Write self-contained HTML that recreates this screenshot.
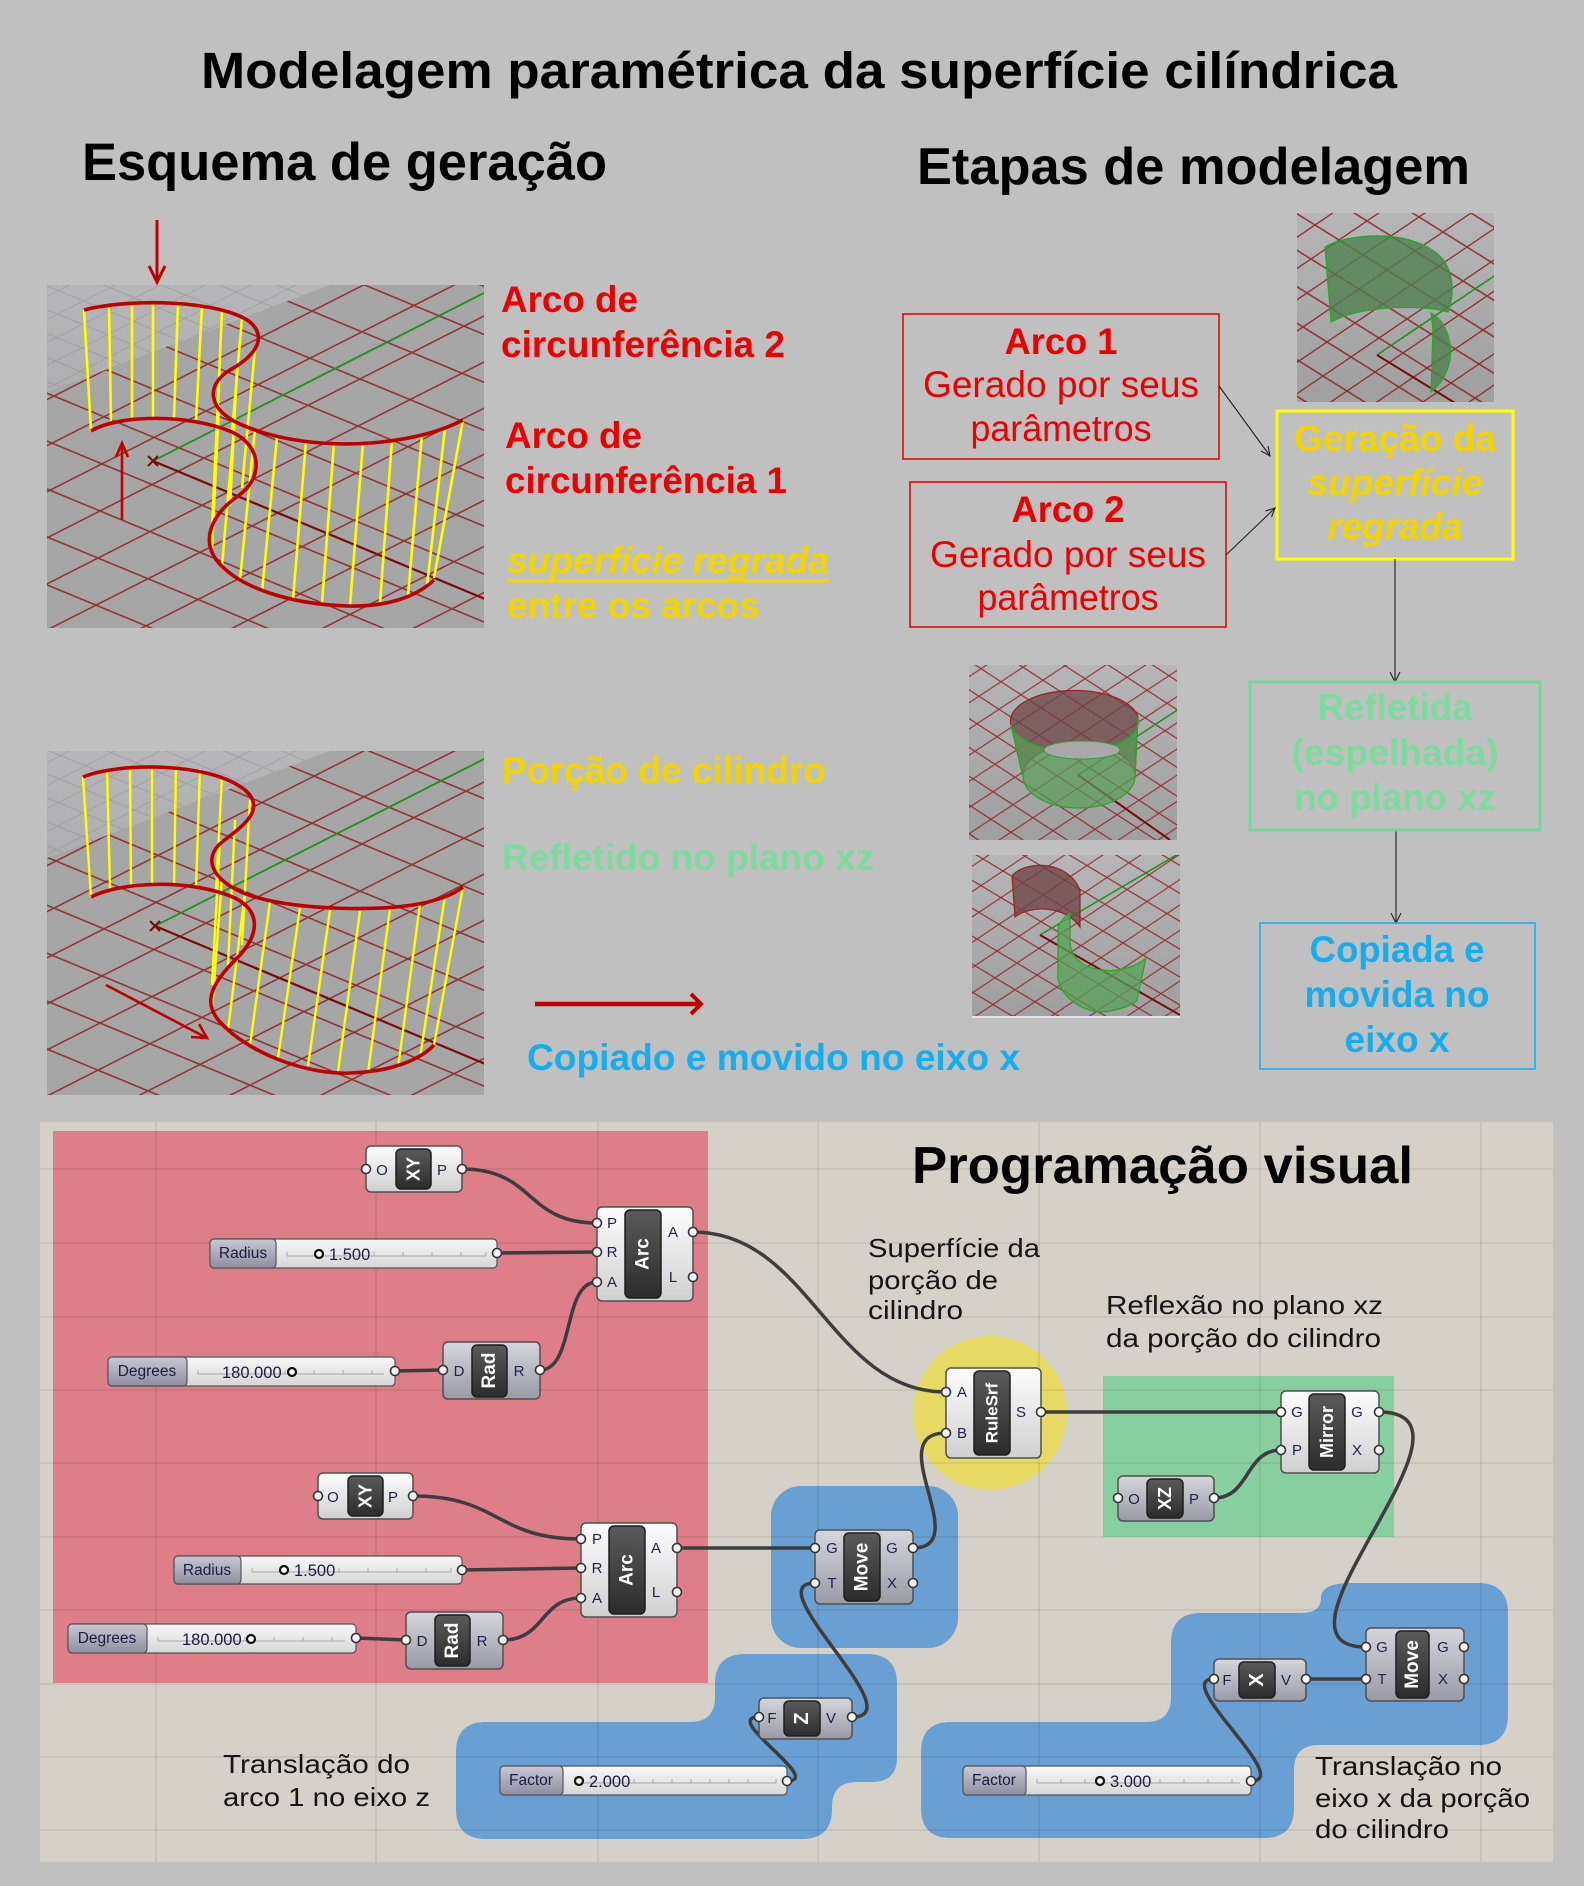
<!DOCTYPE html>
<html><head><meta charset="utf-8">
<style>html,body{margin:0;padding:0;background:#c0c0c0;}svg{display:block}</style></head>
<body>
<svg xmlns="http://www.w3.org/2000/svg" width="1584" height="1886" viewBox="0 0 1584 1886" font-family="'Liberation Sans', Arial, sans-serif">
<defs>
<linearGradient id="vpbg" x1="0" y1="0" x2="0" y2="1"><stop offset="0" stop-color="#b6b6b8"/><stop offset="1" stop-color="#9f9f9f"/></linearGradient>
<linearGradient id="nl" x1="0" y1="0" x2="0" y2="1"><stop offset="0" stop-color="#fdfdfd"/><stop offset="1" stop-color="#d0d0d0"/></linearGradient>
<linearGradient id="ng" x1="0" y1="0" x2="0" y2="1"><stop offset="0" stop-color="#d6d6dc"/><stop offset="1" stop-color="#9a9aa6"/></linearGradient>
<linearGradient id="ni" x1="0" y1="0" x2="0" y2="1"><stop offset="0" stop-color="#5a5a5a"/><stop offset="1" stop-color="#2c2c2c"/></linearGradient>
<linearGradient id="sl" x1="0" y1="0" x2="0" y2="1"><stop offset="0" stop-color="#c8c8d6"/><stop offset="1" stop-color="#8e8ea0"/></linearGradient>
<linearGradient id="sv" x1="0" y1="0" x2="0" y2="1"><stop offset="0" stop-color="#f8f8f8"/><stop offset="1" stop-color="#d6d6d6"/></linearGradient>
<pattern id="g1" patternUnits="userSpaceOnUse" width="100" height="100" patternTransform="matrix(0.52,-0.264,0.50,0.207,153,461)"><path d="M0,50H100M50,0V100" stroke="#8a1c1c" stroke-width="3.5" fill="none"/></pattern>
<pattern id="g1g" patternUnits="userSpaceOnUse" width="100" height="100" patternTransform="matrix(0.26,-0.132,0.25,0.103,153,461)"><path d="M0,50H100M50,0V100" stroke="#8c8c98" stroke-width="4" fill="none"/></pattern>
<pattern id="g2" patternUnits="userSpaceOnUse" width="100" height="100" patternTransform="matrix(0.52,-0.264,0.50,0.207,155,926)"><path d="M0,50H100M50,0V100" stroke="#8a1c1c" stroke-width="3.5" fill="none"/></pattern>
<pattern id="g2g" patternUnits="userSpaceOnUse" width="100" height="100" patternTransform="matrix(0.26,-0.132,0.25,0.103,155,926)"><path d="M0,50H100M50,0V100" stroke="#8c8c98" stroke-width="4" fill="none"/></pattern>
<pattern id="gA" patternUnits="userSpaceOnUse" width="100" height="100" patternTransform="matrix(0.22,-0.145,0.20,0.13,1078,775)"><path d="M0,50H100M50,0V100" stroke="#8a1c1c" stroke-width="5" fill="none"/></pattern>
<pattern id="gB" patternUnits="userSpaceOnUse" width="100" height="100" patternTransform="matrix(0.22,-0.147,0.20,0.12,1040,935)"><path d="M0,50H100M50,0V100" stroke="#8a1c1c" stroke-width="5" fill="none"/></pattern>
<pattern id="gC" patternUnits="userSpaceOnUse" width="100" height="100" patternTransform="matrix(0.28,-0.19,0.24,0.15,1377,355)"><path d="M0,50H100M50,0V100" stroke="#8a1c1c" stroke-width="5" fill="none"/></pattern>
<clipPath id="c1"><rect x="47" y="285" width="437" height="343"/></clipPath>
<clipPath id="c1r"><polygon points="47,392 330,285 484,285 484,628 47,628"/></clipPath>
<clipPath id="c2"><rect x="47" y="751" width="437" height="344"/></clipPath>
<clipPath id="c2r"><polygon points="47,858 330,751 484,751 484,1095 47,1095"/></clipPath>
<clipPath id="cA"><rect x="969" y="665" width="208" height="175"/></clipPath>
<clipPath id="cB"><rect x="972" y="855" width="208" height="163"/></clipPath>
<clipPath id="cC"><rect x="1297" y="213" width="197" height="189"/></clipPath>
</defs>

<rect width="1584" height="1886" fill="#c0c0c0"/>

<!-- Headings -->
<text x="201" y="88" font-size="51" font-weight="bold" fill="#000" textLength="1196" lengthAdjust="spacingAndGlyphs">Modelagem paramétrica da superfície cilíndrica</text>
<text x="82" y="180" font-size="53" font-weight="bold" fill="#000" textLength="525" lengthAdjust="spacingAndGlyphs">Esquema de geração</text>
<text x="917" y="184" font-size="52" font-weight="bold" fill="#000" textLength="553" lengthAdjust="spacingAndGlyphs">Etapas de modelagem</text>

<!-- Viewport 1 -->
<g clip-path="url(#c1)">
<rect x="47" y="285" width="437" height="343" fill="url(#vpbg)"/>
<rect x="47" y="285" width="437" height="343" fill="url(#g1g)" opacity="0.6"/>
<rect x="47" y="285" width="437" height="343" fill="#a6a6a6" clip-path="url(#c1r)"/>
<rect x="47" y="285" width="437" height="343" fill="url(#g1)" clip-path="url(#c1r)" opacity="0.85"/>
<line x1="153" y1="461" x2="490" y2="290" stroke="#1f8f1f" stroke-width="1.8"/>
<line x1="153" y1="461" x2="490" y2="601" stroke="#7a0a0a" stroke-width="2.2"/>
<path d="M148,456l10,10M158,456l-10,10" stroke="#7a0a0a" stroke-width="2"/>
<g stroke="#ffff00" stroke-width="2.6">
<line x1="84" y1="310" x2="91" y2="431"/><line x1="109" y1="306" x2="111" y2="421"/><line x1="132" y1="303" x2="132" y2="417"/><line x1="153" y1="302" x2="153" y2="417"/><line x1="178" y1="303" x2="174" y2="418"/><line x1="202" y1="305" x2="196" y2="421"/><line x1="222" y1="310" x2="217" y2="425"/><line x1="242" y1="318" x2="232" y2="433"/>
<line x1="255" y1="349" x2="242" y2="488"/><line x1="237" y1="369" x2="230" y2="506"/><line x1="219" y1="382" x2="212" y2="527"/>
<line x1="219" y1="405" x2="212" y2="548"/><line x1="235" y1="417" x2="222" y2="566"/><line x1="255" y1="429" x2="240" y2="580"/><line x1="277" y1="437" x2="262" y2="592"/><line x1="306" y1="441" x2="293" y2="600"/><line x1="334" y1="443" x2="322" y2="604"/><line x1="363" y1="443" x2="350" y2="606"/><line x1="392" y1="440" x2="380" y2="603"/><line x1="422" y1="434" x2="408" y2="596"/><line x1="445" y1="428" x2="427" y2="586"/><line x1="463" y1="420" x2="434" y2="578"/>
</g>
<g stroke="#c00000" stroke-width="3.6" fill="none">
<path d="M84,310 C130,298 220,300 250,322 C268,338 255,356 230,370 C205,385 208,410 240,424 C280,442 330,446 370,443 C410,440 440,432 463,420"/>
<path d="M91,431 C120,414 190,414 232,432 C262,446 264,478 238,496 C212,514 200,540 218,562 C240,588 290,604 347,606 C385,607 415,598 434,580"/>
</g>
<g stroke="#c00000" stroke-width="2.6" fill="none"><line x1="122" y1="520" x2="122" y2="445"/><polyline points="116,457 122,443 128,457"/></g>
</g>
<g stroke="#c00000" stroke-width="3" fill="none"><line x1="157" y1="220" x2="157" y2="280"/><polyline points="149,266 157,282 165,266"/></g>

<!-- Labels right of vp1 -->
<g font-weight="bold" fill="#ee0000" font-size="37">
<text x="501" y="312" textLength="137" lengthAdjust="spacingAndGlyphs">Arco de</text>
<text x="501" y="357" textLength="284" lengthAdjust="spacingAndGlyphs">circunferência 2</text>
<text x="505" y="448" textLength="137" lengthAdjust="spacingAndGlyphs">Arco de</text>
<text x="505" y="493" textLength="282" lengthAdjust="spacingAndGlyphs">circunferência 1</text>
</g>
<text x="507" y="573" font-size="37" font-weight="bold" font-style="italic" fill="#f2d500" textLength="322" lengthAdjust="spacingAndGlyphs">superfície regrada</text>
<rect x="507" y="579" width="322" height="3.5" fill="#f2d500"/>
<text x="507" y="618" font-size="37" font-weight="bold" fill="#f2d500" textLength="253" lengthAdjust="spacingAndGlyphs">entre os arcos</text>

<!-- Arco boxes -->
<rect x="903" y="314" width="316" height="145" fill="none" stroke="#e00000" stroke-width="1.5"/>
<rect x="910" y="482" width="316" height="145" fill="none" stroke="#e00000" stroke-width="1.5"/>
<g fill="#ee0000" text-anchor="middle">
<text x="1061" y="354" font-size="37" font-weight="bold" textLength="113" lengthAdjust="spacingAndGlyphs">Arco 1</text>
<text x="1061" y="397" font-size="37" textLength="276" lengthAdjust="spacingAndGlyphs">Gerado por seus</text>
<text x="1061" y="441" font-size="37" textLength="181" lengthAdjust="spacingAndGlyphs">parâmetros</text>
<text x="1068" y="522" font-size="37" font-weight="bold" textLength="113" lengthAdjust="spacingAndGlyphs">Arco 2</text>
<text x="1068" y="567" font-size="37" textLength="276" lengthAdjust="spacingAndGlyphs">Gerado por seus</text>
<text x="1068" y="610" font-size="37" textLength="181" lengthAdjust="spacingAndGlyphs">parâmetros</text>
</g>

<!-- Thumbnail C -->
<g clip-path="url(#cC)">
<rect x="1297" y="213" width="197" height="189" fill="url(#vpbg)"/>
<rect x="1297" y="213" width="197" height="189" fill="url(#gC)" opacity="0.85"/>
<line x1="1377" y1="355" x2="1500" y2="272" stroke="#1f8f1f" stroke-width="1.6"/>
<line x1="1377" y1="355" x2="1460" y2="406" stroke="#7a0a0a" stroke-width="2"/>
<path d="M1325,247 C1350,232 1420,228 1445,262 C1455,280 1453,298 1448,312 C1420,304 1360,306 1331,322 Z" fill="#4f7f4f" fill-opacity="0.8" stroke="#22aa22" stroke-width="1.2"/>
<path d="M1431,313 C1448,322 1452,345 1450,360 C1447,375 1440,385 1431,392 L1433,330 Z" fill="#4f7f4f" fill-opacity="0.8" stroke="#22aa22" stroke-width="1.2"/>
</g>

<!-- Yellow box -->
<rect x="1277" y="411" width="236" height="148" fill="none" stroke="#ffff00" stroke-width="3"/>
<g fill="#f2d500" font-weight="bold" font-size="37" text-anchor="middle">
<text x="1395" y="451" textLength="202" lengthAdjust="spacingAndGlyphs">Geração da</text>
<text x="1395" y="495" font-style="italic" textLength="175" lengthAdjust="spacingAndGlyphs">superfície</text>
<text x="1395" y="539" font-style="italic" textLength="135" lengthAdjust="spacingAndGlyphs">regrada</text>
</g>

<!-- Connectors -->
<g stroke="#222" stroke-width="1.1" fill="none">
<line x1="1219" y1="386" x2="1270" y2="456"/><polyline points="1268,446 1270,456 1261,451"/>
<line x1="1226" y1="555" x2="1275" y2="508"/><polyline points="1265.5,511 1275,508 1271.5,517"/>
<line x1="1395" y1="559" x2="1395" y2="682"/><polyline points="1390,672 1395,682 1400,672"/>
<line x1="1396" y1="830" x2="1396" y2="923"/><polyline points="1391,913 1396,923 1401,913"/>
</g>

<!-- Refletida box -->
<rect x="1250" y="682" width="290" height="148" fill="none" stroke="#6fd89a" stroke-width="3"/>
<g fill="#7ddba0" font-weight="bold" font-size="37" text-anchor="middle">
<text x="1395" y="720" textLength="155" lengthAdjust="spacingAndGlyphs">Refletida</text>
<text x="1395" y="765" textLength="207" lengthAdjust="spacingAndGlyphs">(espelhada)</text>
<text x="1395" y="810" textLength="202" lengthAdjust="spacingAndGlyphs">no plano xz</text>
</g>
<!-- Copiada box -->
<rect x="1260" y="923" width="275" height="146" fill="none" stroke="#1aaee8" stroke-width="1.6"/>
<g fill="#14aef0" font-weight="bold" font-size="37" text-anchor="middle">
<text x="1397" y="962" textLength="175" lengthAdjust="spacingAndGlyphs">Copiada e</text>
<text x="1397" y="1007" textLength="185" lengthAdjust="spacingAndGlyphs">movida no</text>
<text x="1397" y="1052" textLength="105" lengthAdjust="spacingAndGlyphs">eixo x</text>
</g>

<!-- Thumbnail A -->
<g clip-path="url(#cA)">
<rect x="969" y="665" width="208" height="175" fill="url(#vpbg)"/>
<rect x="969" y="665" width="208" height="175" fill="url(#gA)" opacity="0.85"/>
<path d="M1011,725 A63,30 0 0 1 1138,717 L1135,775 A56,32 0 0 0 1023,777 Z" fill="#6e4646" fill-opacity="0.75" stroke="#9a2020" stroke-width="1.2"/>
<line x1="1078" y1="775" x2="1182" y2="707" stroke="#1f8f1f" stroke-width="1.5"/>
<line x1="1078" y1="775" x2="1170" y2="840" stroke="#7a0a0a" stroke-width="2"/>
<path d="M1011,725 A63,30 0 0 0 1138,717 L1135,775 A56,32 0 0 1 1023,777 Z" fill="#58a058" fill-opacity="0.7" stroke="#22aa22" stroke-width="1.2"/>
<ellipse cx="1082" cy="750" rx="38" ry="9" fill="#a9a9a9" stroke="#3a9a3a" stroke-width="1"/>
</g>
<!-- Thumbnail B -->
<g clip-path="url(#cB)">
<rect x="972" y="855" width="208" height="163" fill="url(#vpbg)"/>
<rect x="972" y="855" width="208" height="163" fill="url(#gB)" opacity="0.85"/>
<line x1="1040" y1="935" x2="1185" y2="850" stroke="#1f8f1f" stroke-width="1.5"/>
<line x1="1040" y1="935" x2="1180" y2="1015" stroke="#7a0a0a" stroke-width="2"/>
<path d="M1012,876 C1025,860 1068,860 1080,890 L1080,927 C1065,905 1030,905 1015,917 Z" fill="#6e4646" fill-opacity="0.8" stroke="#9a2020" stroke-width="1.2"/>
<path d="M1070,913 C1062,918 1058,925 1058,930 L1058,978 C1062,1000 1085,1012 1103,1012 C1120,1010 1135,1004 1137,1000 L1146,958 C1135,968 1115,972 1103,970 C1080,968 1070,955 1070,940 Z" fill="#58a058" fill-opacity="0.75" stroke="#22aa22" stroke-width="1.2"/>
<rect x="972" y="1016" width="208" height="2" fill="#dfe4ee"/>
</g>

<!-- Viewport 2 -->
<g clip-path="url(#c2)">
<rect x="47" y="751" width="437" height="344" fill="url(#vpbg)"/>
<rect x="47" y="751" width="437" height="344" fill="url(#g2g)" opacity="0.6"/>
<rect x="47" y="751" width="437" height="344" fill="#a6a6a6" clip-path="url(#c2r)"/>
<rect x="47" y="751" width="437" height="344" fill="url(#g2)" clip-path="url(#c2r)" opacity="0.85"/>
<line x1="155" y1="926" x2="490" y2="756" stroke="#1f8f1f" stroke-width="1.8"/>
<line x1="155" y1="926" x2="490" y2="1066" stroke="#7a0a0a" stroke-width="2.2"/>
<path d="M150,921l10,10M160,921l-10,10" stroke="#7a0a0a" stroke-width="2"/>
<g stroke="#ffff00" stroke-width="2.4">
<line x1="83" y1="777" x2="91" y2="897"/><line x1="107" y1="769" x2="110" y2="889"/><line x1="130" y1="766" x2="131" y2="885"/><line x1="152" y1="765" x2="152" y2="883"/><line x1="176" y1="766" x2="174" y2="884"/><line x1="200" y1="769" x2="196" y2="887"/><line x1="222" y1="776" x2="216" y2="892"/>
<line x1="250" y1="800" x2="242" y2="945"/><line x1="235" y1="820" x2="228" y2="965"/><line x1="220" y1="840" x2="212" y2="985"/>
<line x1="222" y1="878" x2="212" y2="1010"/><line x1="245" y1="893" x2="228" y2="1030"/><line x1="270" y1="902" x2="250" y2="1045"/><line x1="300" y1="908" x2="278" y2="1058"/><line x1="330" y1="910" x2="308" y2="1066"/><line x1="360" y1="911" x2="338" y2="1072"/><line x1="390" y1="909" x2="368" y2="1073"/><line x1="420" y1="904" x2="398" y2="1068"/><line x1="445" y1="896" x2="420" y2="1058"/><line x1="463" y1="887" x2="434" y2="1045"/>
</g>
<g stroke="#c00000" stroke-width="3.6" fill="none">
<path d="M83,777 C120,762 210,762 245,790 C268,810 240,828 222,842 C200,860 215,885 255,897 C300,910 380,912 424,903 C445,898 455,893 463,887"/>
<path d="M91,897 C120,882 190,878 235,898 C262,912 258,935 240,955 C215,980 200,1000 220,1022 C250,1055 310,1075 350,1073 C390,1072 420,1060 434,1045"/>
</g>
<g stroke="#c00000" stroke-width="2.6" fill="none"><line x1="106" y1="985" x2="205" y2="1037"/><polyline points="191,1037 207,1038 199,1024"/></g>
</g>

<text x="502" y="783" font-size="37" font-weight="bold" fill="#f2d500" textLength="324" lengthAdjust="spacingAndGlyphs">Porção de cilindro</text>
<text x="502" y="870" font-size="37" font-weight="bold" fill="#7ddba0" textLength="372" lengthAdjust="spacingAndGlyphs">Refletido no plano xz</text>
<g stroke="#c00000" fill="none"><line x1="535" y1="1004" x2="700" y2="1004" stroke-width="4.5"/><polyline points="691,994 701,1004 691,1014" stroke-width="4"/></g>
<text x="527" y="1070" font-size="37" font-weight="bold" fill="#14aef0" textLength="493" lengthAdjust="spacingAndGlyphs">Copiado e movido no eixo x</text>

<!-- ============ Grasshopper canvas ============ -->
<rect x="40" y="1122" width="1513" height="740" fill="#d5d1c9"/>
<rect x="53" y="1131" width="655" height="552" fill="#dd7e88"/>
<circle cx="990" cy="1413" r="77" fill="#e6da64"/>
<rect x="1103" y="1376" width="291" height="161" fill="#88cf9f"/>
<rect x="771" y="1486" width="187" height="162" rx="30" fill="#6a9fd3"/>
<path d="M745,1654 H867 Q897,1654 897,1684 V1757 Q897,1782 872,1782 H857 Q832,1782 832,1807 V1809 Q832,1839 802,1839 H486 Q456,1839 456,1809 V1752 Q456,1722 486,1722 H690 Q715,1722 715,1697 V1684 Q715,1654 745,1654 Z" fill="#6a9fd3"/>
<path d="M1351,1583 H1478 Q1508,1583 1508,1613 V1715 Q1508,1745 1478,1745 H1319 Q1294,1745 1294,1770 V1808 Q1294,1838 1264,1838 H951 Q921,1838 921,1808 V1752 Q921,1722 951,1722 H1146 Q1171,1722 1171,1697 V1643 Q1171,1613 1201,1613 H1301 Q1321,1613 1321,1598 Q1321,1583 1351,1583 Z" fill="#6a9fd3"/>
<g stroke="#000" stroke-opacity="0.1" stroke-width="1.3">
<line x1="156" y1="1122" x2="156" y2="1862"/><line x1="376" y1="1122" x2="376" y2="1862"/><line x1="598" y1="1122" x2="598" y2="1862"/><line x1="818" y1="1122" x2="818" y2="1862"/><line x1="1039" y1="1122" x2="1039" y2="1862"/><line x1="1260" y1="1122" x2="1260" y2="1862"/><line x1="1481" y1="1122" x2="1481" y2="1862"/>
<line x1="40" y1="1169" x2="1553" y2="1169"/><line x1="40" y1="1243" x2="1553" y2="1243"/><line x1="40" y1="1317" x2="1553" y2="1317"/><line x1="40" y1="1390" x2="1553" y2="1390"/><line x1="40" y1="1463" x2="1553" y2="1463"/><line x1="40" y1="1537" x2="1553" y2="1537"/><line x1="40" y1="1610" x2="1553" y2="1610"/><line x1="40" y1="1684" x2="1553" y2="1684"/><line x1="40" y1="1757" x2="1553" y2="1757"/><line x1="40" y1="1830" x2="1553" y2="1830"/>
</g>

<!-- Canvas texts -->
<text x="912" y="1183" font-size="52" font-weight="bold" fill="#000" textLength="501" lengthAdjust="spacingAndGlyphs">Programação visual</text>
<g font-size="26" fill="#151515">
<text x="868" y="1257" textLength="172" lengthAdjust="spacingAndGlyphs">Superfície da</text>
<text x="868" y="1289" textLength="130" lengthAdjust="spacingAndGlyphs">porção de</text>
<text x="868" y="1319" textLength="95" lengthAdjust="spacingAndGlyphs">cilindro</text>
<text x="1106" y="1314" textLength="277" lengthAdjust="spacingAndGlyphs">Reflexão no plano xz</text>
<text x="1106" y="1347" textLength="275" lengthAdjust="spacingAndGlyphs">da porção do cilindro</text>
<text x="223" y="1773" textLength="187" lengthAdjust="spacingAndGlyphs">Translação do</text>
<text x="223" y="1806" textLength="207" lengthAdjust="spacingAndGlyphs">arco 1 no eixo z</text>
<text x="1315" y="1775" textLength="187" lengthAdjust="spacingAndGlyphs">Translação no</text>
<text x="1315" y="1807" textLength="215" lengthAdjust="spacingAndGlyphs">eixo x da porção</text>
<text x="1315" y="1838" textLength="134" lengthAdjust="spacingAndGlyphs">do cilindro</text>
</g>

<!-- Wires -->
<g stroke="#3d3d3d" stroke-width="3.5" fill="none" stroke-linecap="round">
<path d="M462,1169 C535,1169 525,1223 597,1223"/>
<path d="M497,1253 L597,1252"/>
<path d="M540,1370 C575,1370 562,1282 597,1282"/>
<path d="M395,1371 L443,1370"/>
<path d="M693,1232 C810,1232 830,1392 946,1392"/>
<path d="M413,1496 C500,1496 495,1539 581,1539"/>
<path d="M462,1570 L581,1568"/>
<path d="M356,1638 L406,1640"/>
<path d="M503,1640 C545,1640 540,1598 581,1598"/>
<path d="M677,1548 L815,1548"/>
<path d="M913,1548 C975,1548 880,1433 946,1433"/>
<path d="M852,1717 C915,1717 755,1583 815,1583"/>
<path d="M787,1781 C825,1781 720,1717 759,1717"/>
<path d="M1041,1412 L1281,1412"/>
<path d="M1214,1498 C1250,1498 1245,1450 1281,1450"/>
<path d="M1379,1412 C1500,1412 1250,1647 1366,1647"/>
<path d="M1306,1679 L1366,1679"/>
<path d="M1251,1781 C1295,1781 1170,1679 1214,1679"/>
</g>

<!-- Sliders -->
<g font-size="15.5" fill="#1c1c40">
<rect x="210" y="1239" width="287" height="29" rx="4" fill="url(#sv)" stroke="#555" stroke-width="1.2"/>
<rect x="210" y="1239" width="66" height="29" rx="4" fill="url(#sl)" stroke="#555" stroke-width="1.2"/>
<path d="M287,1256H486M287,1252v4M316,1252v4M345,1252v4M374,1252v4M403,1252v4M432,1252v4M461,1252v4M486,1252v4" stroke="#a8a8a8" stroke-width="1"/>
<text x="243" y="1258" text-anchor="middle">Radius</text>
<circle cx="319" cy="1254" r="4" fill="#fff" stroke="#111" stroke-width="2.2"/>
<text x="329" y="1260" font-size="16.5">1.500</text>
<rect x="108" y="1357" width="287" height="29" rx="4" fill="url(#sv)" stroke="#555" stroke-width="1.2"/>
<rect x="108" y="1357" width="79" height="29" rx="4" fill="url(#sl)" stroke="#555" stroke-width="1.2"/>
<path d="M198,1374H384M198,1370v4M227,1370v4M256,1370v4M285,1370v4M314,1370v4M343,1370v4M372,1370v4" stroke="#a8a8a8" stroke-width="1"/>
<text x="147" y="1376" text-anchor="middle">Degrees</text>
<text x="222" y="1378" font-size="16.5">180.000</text>
<circle cx="292" cy="1372" r="4" fill="#fff" stroke="#111" stroke-width="2.2"/>
<rect x="174" y="1556" width="288" height="28" rx="4" fill="url(#sv)" stroke="#555" stroke-width="1.2"/>
<rect x="174" y="1556" width="67" height="28" rx="4" fill="url(#sl)" stroke="#555" stroke-width="1.2"/>
<path d="M252,1572H451M252,1568v4M281,1568v4M310,1568v4M339,1568v4M368,1568v4M397,1568v4M426,1568v4M451,1568v4" stroke="#a8a8a8" stroke-width="1"/>
<text x="207" y="1575" text-anchor="middle">Radius</text>
<circle cx="284" cy="1570" r="4" fill="#fff" stroke="#111" stroke-width="2.2"/>
<text x="294" y="1576" font-size="16.5">1.500</text>
<rect x="68" y="1624" width="288" height="29" rx="4" fill="url(#sv)" stroke="#555" stroke-width="1.2"/>
<rect x="68" y="1624" width="79" height="29" rx="4" fill="url(#sl)" stroke="#555" stroke-width="1.2"/>
<path d="M158,1641H345M158,1637v4M187,1637v4M216,1637v4M245,1637v4M274,1637v4M303,1637v4M332,1637v4" stroke="#a8a8a8" stroke-width="1"/>
<text x="107" y="1643" text-anchor="middle">Degrees</text>
<text x="182" y="1645" font-size="16.5">180.000</text>
<circle cx="251" cy="1639" r="4" fill="#fff" stroke="#111" stroke-width="2.2"/>
<rect x="500" y="1766" width="287" height="29" rx="4" fill="url(#sv)" stroke="#555" stroke-width="1.2"/>
<rect x="500" y="1766" width="63" height="29" rx="4" fill="url(#sl)" stroke="#555" stroke-width="1.2"/>
<path d="M574,1783H776M634,1779v4M653,1779v4M672,1779v4M691,1779v4M710,1779v4M729,1779v4M748,1779v4M776,1779v4" stroke="#a8a8a8" stroke-width="1"/>
<text x="531" y="1785" text-anchor="middle">Factor</text>
<circle cx="579" cy="1781" r="4" fill="#fff" stroke="#111" stroke-width="2.2"/>
<text x="589" y="1787" font-size="16.5">2.000</text>
<rect x="963" y="1766" width="288" height="29" rx="4" fill="url(#sv)" stroke="#555" stroke-width="1.2"/>
<rect x="963" y="1766" width="63" height="29" rx="4" fill="url(#sl)" stroke="#555" stroke-width="1.2"/>
<path d="M1037,1783H1240M1037,1779v4M1061,1779v4M1085,1779v4M1160,1779v4M1184,1779v4M1208,1779v4M1232,1779v4" stroke="#a8a8a8" stroke-width="1"/>
<text x="994" y="1785" text-anchor="middle">Factor</text>
<circle cx="1100" cy="1781" r="4" fill="#fff" stroke="#111" stroke-width="2.2"/>
<text x="1110" y="1787" font-size="16.5">3.000</text>
</g>

<!-- Nodes -->
<g stroke-width="1.5">
<rect x="366" y="1146" width="96" height="46" rx="5" fill="url(#nl)" stroke="#505050"/>
<rect x="396" y="1149" width="35" height="40" rx="5" fill="url(#ni)" stroke="#1e1e1e"/>
<rect x="597" y="1207" width="96" height="94" rx="5" fill="url(#nl)" stroke="#505050"/>
<rect x="625" y="1210" width="36" height="88" rx="5" fill="url(#ni)" stroke="#1e1e1e"/>
<rect x="443" y="1342" width="97" height="57" rx="5" fill="url(#ng)" stroke="#505050"/>
<rect x="472" y="1345" width="35" height="52" rx="5" fill="url(#ni)" stroke="#1e1e1e"/>
<rect x="318" y="1473" width="95" height="46" rx="5" fill="url(#nl)" stroke="#505050"/>
<rect x="348" y="1476" width="35" height="40" rx="5" fill="url(#ni)" stroke="#1e1e1e"/>
<rect x="581" y="1523" width="96" height="94" rx="5" fill="url(#nl)" stroke="#505050"/>
<rect x="609" y="1526" width="36" height="88" rx="5" fill="url(#ni)" stroke="#1e1e1e"/>
<rect x="406" y="1612" width="97" height="57" rx="5" fill="url(#ng)" stroke="#505050"/>
<rect x="435" y="1615" width="35" height="51" rx="5" fill="url(#ni)" stroke="#1e1e1e"/>
<rect x="946" y="1368" width="95" height="90" rx="5" fill="url(#nl)" stroke="#505050"/>
<rect x="974" y="1371" width="36" height="84" rx="5" fill="url(#ni)" stroke="#1e1e1e"/>
<rect x="1281" y="1391" width="98" height="82" rx="5" fill="url(#nl)" stroke="#505050"/>
<rect x="1309" y="1394" width="36" height="76" rx="5" fill="url(#ni)" stroke="#1e1e1e"/>
<rect x="1118" y="1476" width="96" height="45" rx="5" fill="url(#ng)" stroke="#505050"/>
<rect x="1147" y="1479" width="36" height="39" rx="5" fill="url(#ni)" stroke="#1e1e1e"/>
<rect x="815" y="1530" width="98" height="74" rx="5" fill="url(#ng)" stroke="#505050"/>
<rect x="844" y="1533" width="36" height="68" rx="5" fill="url(#ni)" stroke="#1e1e1e"/>
<rect x="759" y="1698" width="93" height="41" rx="5" fill="url(#ng)" stroke="#505050"/>
<rect x="784" y="1701" width="36" height="35" rx="5" fill="url(#ni)" stroke="#1e1e1e"/>
<rect x="1214" y="1659" width="92" height="42" rx="5" fill="url(#ng)" stroke="#505050"/>
<rect x="1239" y="1662" width="36" height="36" rx="5" fill="url(#ni)" stroke="#1e1e1e"/>
<rect x="1366" y="1628" width="98" height="73" rx="5" fill="url(#ng)" stroke="#505050"/>
<rect x="1396" y="1631" width="33" height="67" rx="5" fill="url(#ni)" stroke="#1e1e1e"/>
</g>

<!-- Inner labels -->
<g fill="#fff" font-weight="bold" text-anchor="middle" dominant-baseline="central">
<text x="413.5" y="1169" font-size="18" transform="rotate(-90 413.5 1169)">XY</text>
<text x="643" y="1254" font-size="19" transform="rotate(-90 643 1254)">Arc</text>
<text x="489.5" y="1370.5" font-size="19" transform="rotate(-90 489.5 1370.5)">Rad</text>
<text x="365.5" y="1496" font-size="18" transform="rotate(-90 365.5 1496)">XY</text>
<text x="627" y="1570" font-size="19" transform="rotate(-90 627 1570)">Arc</text>
<text x="452.5" y="1640.5" font-size="19" transform="rotate(-90 452.5 1640.5)">Rad</text>
<text x="992" y="1413" font-size="17" transform="rotate(-90 992 1413)">RuleSrf</text>
<text x="1327" y="1432" font-size="18" transform="rotate(-90 1327 1432)">Mirror</text>
<text x="1165" y="1498.5" font-size="18" transform="rotate(-90 1165 1498.5)">XZ</text>
<text x="862" y="1567" font-size="19" transform="rotate(-90 862 1567)">Move</text>
<text x="802" y="1718.5" font-size="20" transform="rotate(-90 802 1718.5)">Z</text>
<text x="1257" y="1680" font-size="20" transform="rotate(-90 1257 1680)">X</text>
<text x="1412.5" y="1664.5" font-size="19" transform="rotate(-90 1412.5 1664.5)">Move</text>
</g>

<!-- Port letters -->
<g font-size="15" fill="#22224a" text-anchor="middle">
<text x="382" y="1175">O</text><text x="442" y="1175">P</text>
<text x="612" y="1228">P</text><text x="612" y="1257">R</text><text x="612" y="1287">A</text><text x="673" y="1237">A</text><text x="673" y="1282">L</text>
<text x="459" y="1376">D</text><text x="519" y="1376">R</text>
<text x="333" y="1502">O</text><text x="393" y="1502">P</text>
<text x="597" y="1544">P</text><text x="597" y="1573">R</text><text x="597" y="1603">A</text><text x="656" y="1553">A</text><text x="656" y="1597">L</text>
<text x="422" y="1646">D</text><text x="482" y="1646">R</text>
<text x="962" y="1397">A</text><text x="962" y="1438">B</text><text x="1021" y="1417">S</text>
<text x="1297" y="1417">G</text><text x="1297" y="1455">P</text><text x="1357" y="1417">G</text><text x="1357" y="1455">X</text>
<text x="1134" y="1504">O</text><text x="1194" y="1504">P</text>
<text x="832" y="1553">G</text><text x="832" y="1588">T</text><text x="892" y="1553">G</text><text x="892" y="1588">X</text>
<text x="772" y="1723">F</text><text x="831" y="1723">V</text>
<text x="1227" y="1685">F</text><text x="1286" y="1685">V</text>
<text x="1382" y="1652">G</text><text x="1382" y="1684">T</text><text x="1443" y="1652">G</text><text x="1443" y="1684">X</text>
</g>

<!-- Ports -->
<g fill="#f4f4f4" stroke="#333" stroke-width="1.6">
<circle cx="366" cy="1169" r="4.5"/><circle cx="462" cy="1169" r="4.5"/>
<circle cx="497" cy="1253" r="4.5"/><circle cx="395" cy="1371" r="4.5"/>
<circle cx="597" cy="1223" r="4.5"/><circle cx="597" cy="1252" r="4.5"/><circle cx="597" cy="1282" r="4.5"/><circle cx="693" cy="1232" r="4.5"/><circle cx="693" cy="1277" r="4.5"/>
<circle cx="443" cy="1370" r="4.5"/><circle cx="540" cy="1370" r="4.5"/>
<circle cx="318" cy="1496" r="4.5"/><circle cx="413" cy="1496" r="4.5"/>
<circle cx="462" cy="1570" r="4.5"/><circle cx="356" cy="1638" r="4.5"/>
<circle cx="581" cy="1539" r="4.5"/><circle cx="581" cy="1568" r="4.5"/><circle cx="581" cy="1598" r="4.5"/><circle cx="677" cy="1548" r="4.5"/><circle cx="677" cy="1592" r="4.5"/>
<circle cx="406" cy="1640" r="4.5"/><circle cx="503" cy="1640" r="4.5"/>
<circle cx="946" cy="1392" r="4.5"/><circle cx="946" cy="1433" r="4.5"/><circle cx="1041" cy="1412" r="4.5"/>
<circle cx="1281" cy="1412" r="4.5"/><circle cx="1281" cy="1450" r="4.5"/><circle cx="1379" cy="1412" r="4.5"/><circle cx="1379" cy="1450" r="4.5"/>
<circle cx="1118" cy="1498" r="4.5"/><circle cx="1214" cy="1498" r="4.5"/>
<circle cx="815" cy="1548" r="4.5"/><circle cx="815" cy="1583" r="4.5"/><circle cx="913" cy="1548" r="4.5"/><circle cx="913" cy="1583" r="4.5"/>
<circle cx="759" cy="1717" r="4.5"/><circle cx="852" cy="1717" r="4.5"/>
<circle cx="787" cy="1781" r="4.5"/><circle cx="1251" cy="1781" r="4.5"/>
<circle cx="1214" cy="1679" r="4.5"/><circle cx="1306" cy="1679" r="4.5"/>
<circle cx="1366" cy="1647" r="4.5"/><circle cx="1366" cy="1679" r="4.5"/><circle cx="1464" cy="1647" r="4.5"/><circle cx="1464" cy="1679" r="4.5"/>
</g>
</svg>
</body></html>
